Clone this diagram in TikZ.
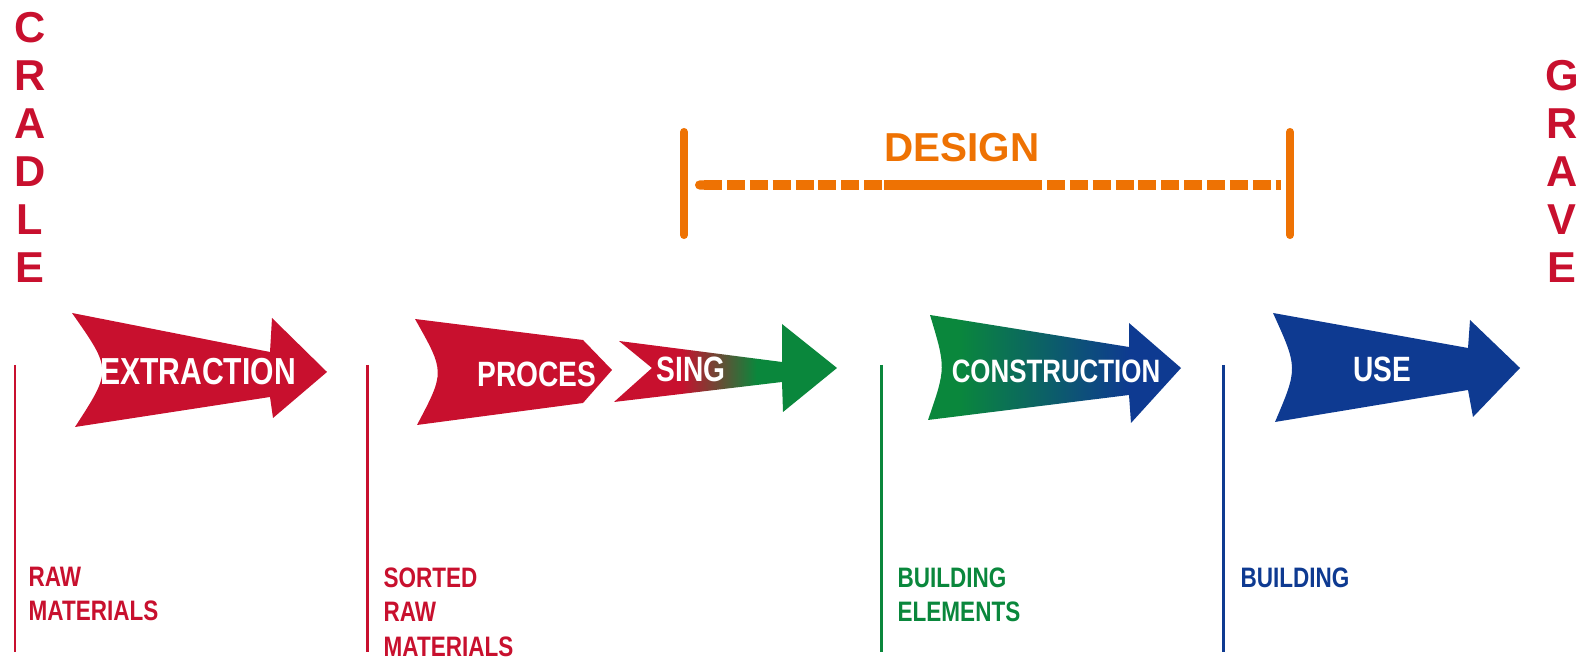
\documentclass[tikz,border=0pt]{standalone}
\usepackage{fontspec}
\setmainfont{Liberation Sans}
\newfontfamily\narrowsans[FakeStretch=0.8]{Liberation Sans}
\usetikzlibrary{arrows.meta}
\definecolor{lcared}{RGB}{200,16,46}
\definecolor{lcagreen}{RGB}{10,135,60}
\definecolor{lcablue}{RGB}{14,58,145}
\definecolor{lcaorange}{RGB}{238,114,3}
\pgfdeclarehorizontalshading{redtogreen}{100bp}{color(0bp)=(lcared); color(40bp)=(lcared); color(57bp)=(lcagreen); color(100bp)=(lcagreen)}
\pgfdeclarehorizontalshading{greentoblue}{100bp}{color(0bp)=(lcagreen); color(31bp)=(lcagreen); color(65bp)=(lcablue); color(100bp)=(lcablue)}
\tikzset{
  steplabel/.style={text=white, anchor=base, inner sep=0pt,
    font=\narrowsans\bfseries\fontsize{10}{12}\selectfont},
  stagelabel/.style={anchor=north west, align=left, inner sep=0pt,
    font=\narrowsans\bfseries\fontsize{8}{9.8}\selectfont},
  endword/.style={anchor=south, align=center, inner sep=0pt, text=lcared,
    font=\bfseries\fontsize{12.3}{13.66}\selectfont},
  divider/.style={line width=0.85pt},
  designtick/.style={lcaorange, line width=2.3pt, line cap=round},
  designline/.style={lcaorange, line width=2.6pt, dash pattern=on 5.1pt off 1.4pt},
}
\begin{document}
\begin{tikzpicture}[x=0.01cm,y=-0.01cm]
  \useasboundingbox (0,0) rectangle (1591,659);
  % cradle and grave
  \node[endword] (cradle) at (30,283) {C\\R\\A\\D\\L\\E};
  \node[endword] (grave) at (1562,283) {G\\R\\A\\V\\E};
  % design span
  \node[text=lcaorange, anchor=base, inner sep=0pt,
    font=\bfseries\fontsize{11.5}{13}\selectfont] (design) at (962,162) {DESIGN};
  \coordinate (dl) at (695,185);
  \coordinate (dr) at (1281,185);
  \draw[designtick] (684,132) -- (684,235);
  \draw[designtick] (1290,132) -- (1290,235);
  \draw[designline, {Round Cap[]}-] (dl) -- (dr);
  \draw[designline, solid] (design.west |- dl) -- (design.east |- dl);
  % arrows
  \fill[lcared] (72,313) -- (270,352) -- (272,318) -- (327,372) -- (273,418) -- (270,397)
    -- (75,427) .. controls (112,370) .. (72,313) -- cycle;
  \fill[lcared] (415,319) -- (583,340) -- (612,370) -- (583,403)
    -- (417,425) .. controls (445,372) .. (415,319) -- cycle;
  \shade[shading=redtogreen] (619,341) -- (782,362) -- (782,324) -- (837,368) -- (783,412)
    -- (782,382) -- (614,402) -- (652,368) -- cycle;
  \shade[shading=greentoblue] (930,315) -- (1129,347) -- (1129,323) -- (1181,368) -- (1131,423)
    -- (1129,395) -- (928,420) .. controls (946,368) .. (930,315) -- cycle;
  \fill[lcablue] (1273,313) -- (1468,348) -- (1470,320) -- (1520,368) -- (1473,417) -- (1468,390)
    -- (1275,422) .. controls (1298,368) .. (1273,313) -- cycle;
  \node[steplabel, font=\narrowsans\bfseries\fontsize{10.7}{12}\selectfont] (extraction) at (198,385) {EXTRACTION};
  \node[steplabel] (proces) at (537,387) {PROCES};
  \node[steplabel] (sing) at (691,382) {SING};
  \node[steplabel, font=\narrowsans\bfseries\fontsize{9.2}{11}\selectfont] (construction) at (1056,383) {CONSTRUCTION};
  \node[steplabel] (use) at (1382,382) {USE};
  % stages
  \draw[divider, lcared] (15,365) -- (15,652);
  \draw[divider, lcared] (367,365) -- (367,652);
  \draw[divider, lcagreen] (881,365) -- (881,652);
  \draw[divider, lcablue] (1223,365) -- (1223,652);
  \node[stagelabel, text=lcared] (rawmat) at (28,566) {RAW\\MATERIALS};
  \node[stagelabel, text=lcared] (sortedmat) at (383,567) {SORTED\\RAW\\MATERIALS};
  \node[stagelabel, text=lcagreen] (elements) at (897,567) {BUILDING\\ELEMENTS};
  \node[stagelabel, text=lcablue] (building) at (1240,567) {BUILDING};
\end{tikzpicture}
\end{document}
